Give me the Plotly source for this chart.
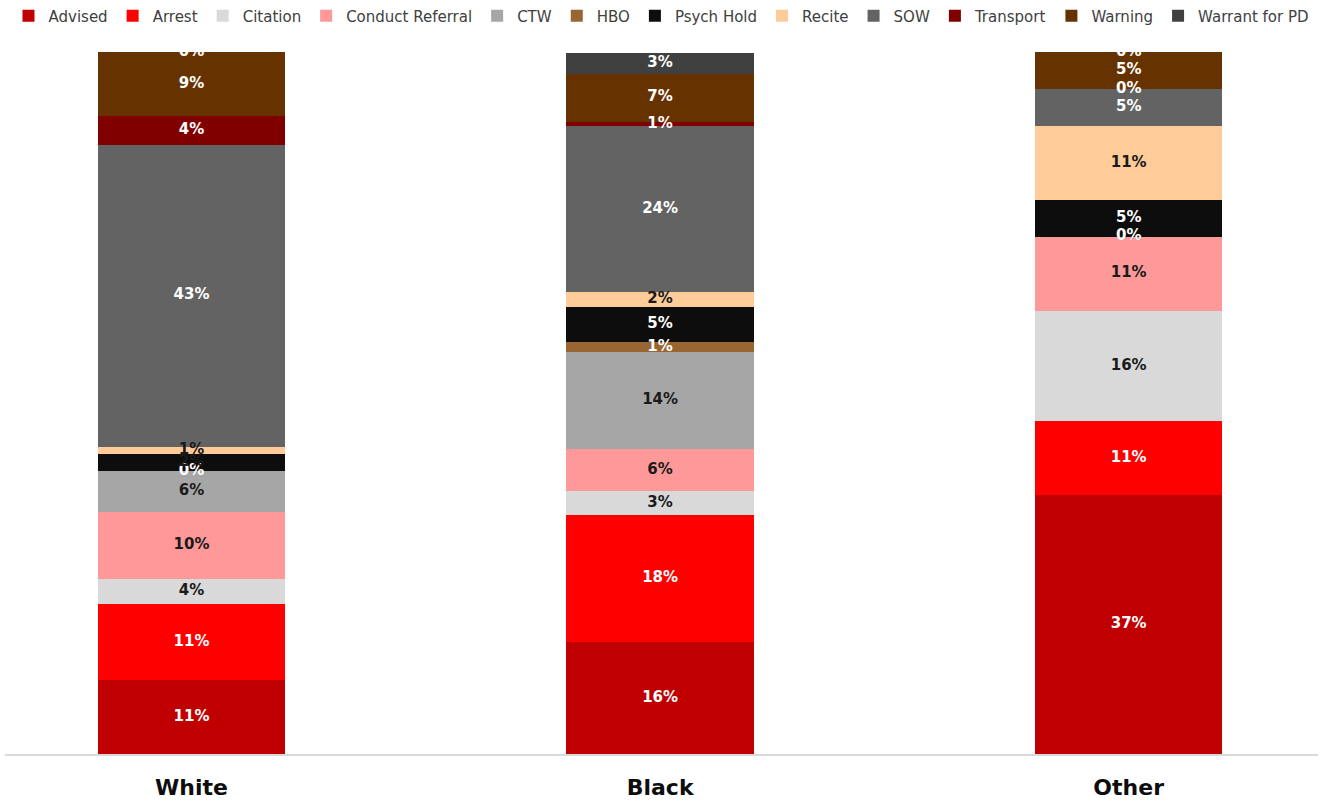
import plotly.graph_objects as go

categories = ["White", "Black", "Other"]
series_names = ["Advised", "Arrest", "Citation", "Conduct Referral", "CTW", "HBO",
                "Psych Hold", "Recite", "SOW", "Transport", "Warning", "Warrant for PD"]

advised = [10.6, 16.0, 36.84]
arrest = [10.7, 18.0, 10.53]
citation = [3.7, 3.4, 15.79]
conduct_referral = [9.5, 6.1, 10.53]
ctw = [5.8, 13.8, 0.0]
hbo = [0.0, 1.4, 0.0]
psych_hold = [2.4, 5.0, 5.26]
recite = [1.1, 2.1, 10.53]
sow = [43.0, 23.6, 5.26]
transport = [4.1, 0.7, 0.0]
warning = [9.1, 6.8, 5.26]
warrant_for_pd = [0.0, 3.0, 0.0]

series_values = [advised, arrest, citation, conduct_referral, ctw, hbo,
                 psych_hold, recite, sow, transport, warning, warrant_for_pd]

colors = ["#C00000", "#FF0000", "#D9D9D9", "#FF9999", "#A6A6A6", "#996633",
          "#0D0D0D", "#FFCC99", "#636363", "#800000", "#663300", "#404040"]
DARK = "#1a1a1a"
label_colors = [
    ["white"] * 3, ["white"] * 3, [DARK] * 3, [DARK] * 3, [DARK] * 3,
    ["white"] * 3, [DARK, "white", "white"], [DARK] * 3, ["white"] * 3,
    ["white"] * 3, ["white"] * 3, ["white"] * 3,
]

fig = go.Figure()
for name, vals, col in zip(series_names, series_values, colors):
    fig.add_trace(go.Bar(
        name=name, x=categories, y=vals, marker=dict(color=col, line=dict(width=0)),
        width=0.4, hoverinfo="skip",
    ))

# data labels at segment midpoints
base = [0.0, 0.0, 0.0]
for name, vals, lc in zip(series_names, series_values, label_colors):
    mids = [b + v / 2 for b, v in zip(base, vals)]
    fig.add_trace(go.Scatter(
        x=categories, y=mids, mode="text",
        text=[f"{round(v)}%" for v in vals],
        textfont=dict(family="DejaVu Sans", size=15, color=lc, weight="bold"),
        showlegend=False, hoverinfo="skip", cliponaxis=True,
    ))
    base = [b + v for b, v in zip(base, vals)]

fig.update_layout(
    barmode="stack",
    width=1323, height=801,
    margin=dict(l=5, r=5, t=52, b=47),
    paper_bgcolor="white", plot_bgcolor="white",
    font=dict(family="DejaVu Sans", color="#404040"),
    legend=dict(orientation="h", x=0.5, xanchor="center",
                yref="container", y=0.98, yanchor="middle",
                font=dict(size=15, color="#404040", family="DejaVu Sans"),
                traceorder="normal", itemwidth=30, tracegroupgap=0),
    xaxis=dict(range=[-0.398, 2.404], showgrid=False, zeroline=False,
               showline=True, linecolor="#D9D9D9", linewidth=2, automargin=False,
               ticks="outside", ticklen=13, tickcolor="rgba(0,0,0,0)",
               tickfont=dict(size=22, color="#0D0D0D", family="DejaVu Sans", weight="bold")),
    yaxis=dict(range=[0, 100], visible=False, automargin=False),
)

fig.write_html("out.html", config={"displayModeBar": False},
               post_script="document.body.style.margin='0';")
